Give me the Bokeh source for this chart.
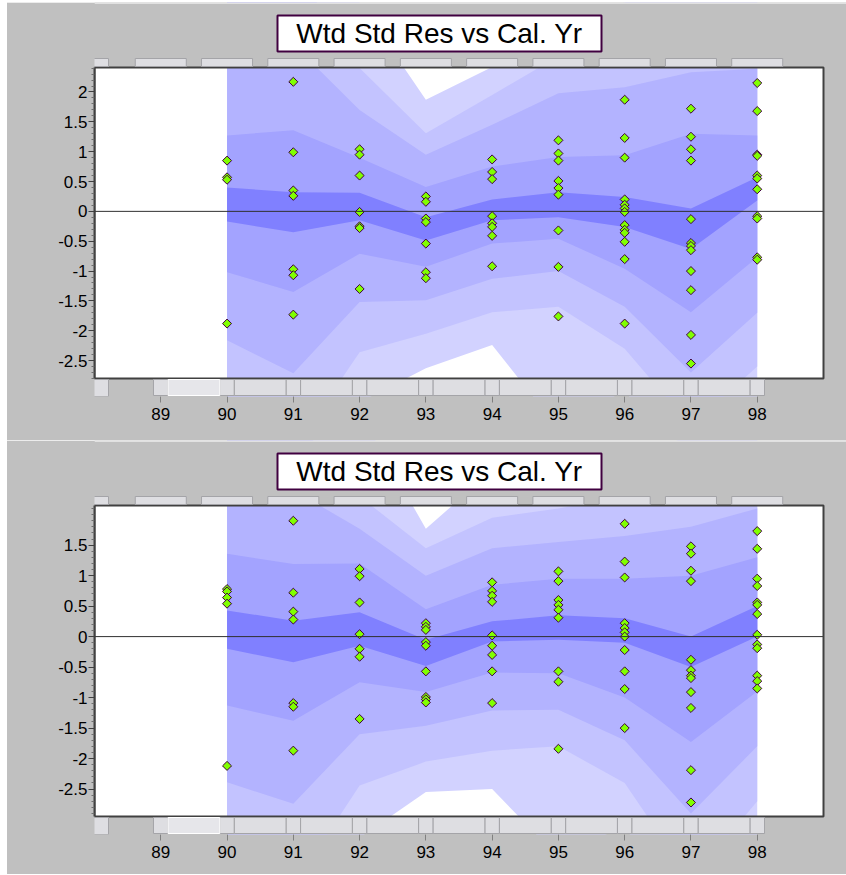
import math
from bokeh.plotting import figure
from bokeh.models import (FixedTicker, NumeralTickFormatter, Span, BoxAnnotation,
                          Label, Range1d)
from bokeh.layouts import column
from bokeh.embed import file_html
from bokeh.resources import INLINE

# ---------------- data ----------------
years = [90, 91, 92, 93, 94, 95, 96, 97, 98]
x_ticks = [89, 90, 91, 92, 93, 94, 95, 96, 97, 98]
title_text = "Wtd Std Res vs Cal. Yr"

top_y_ticks = [-2.5, -2, -1.5, -1, -0.5, 0, 0.5, 1, 1.5, 2]
bot_y_ticks = [-2.5, -2, -1.5, -1, -0.5, 0, 0.5, 1, 1.5]
top_limits = [-2.8, 2.41]
bot_limits = [-2.95, 2.15]

# residuals, top panel
top_90 = [0.85, 0.57, 0.53, -1.88]
top_91 = [2.17, 0.99, 0.35, 0.26, -0.97, -1.07, -1.73]
top_92 = [1.04, 0.95, 0.60, -0.01, -0.25, -0.28, -1.30]
top_93 = [0.25, 0.16, -0.12, -0.18, -0.54, -1.02, -1.12]
top_94 = [0.87, 0.66, 0.54, -0.08, -0.20, -0.26, -0.41, -0.92]
top_95 = [1.19, 0.97, 0.85, 0.51, 0.39, 0.28, -0.32, -0.93, -1.76]
top_96 = [1.87, 1.23, 0.90, 0.20, 0.11, 0.05, -0.01, -0.23, -0.31, -0.36, -0.51, -0.80, -1.88]
top_97 = [1.72, 1.25, 1.04, 0.85, -0.13, -0.53, -0.58, -0.65, -1.00, -1.32, -2.07, -2.55]
top_98 = [2.15, 1.68, 0.95, 0.93, 0.60, 0.55, 0.37, -0.08, -0.12, -0.77, -0.81]

# residuals, bottom panel
bot_90 = [0.78, 0.74, 0.64, 0.54, -2.12]
bot_91 = [1.90, 0.72, 0.41, 0.28, -1.09, -1.15, -1.87]
bot_92 = [1.11, 0.99, 0.56, 0.04, -0.20, -0.33, -1.35]
bot_93 = [0.22, 0.16, 0.11, -0.09, -0.15, -0.57, -0.99, -1.03, -1.08]
bot_94 = [0.89, 0.75, 0.67, 0.57, 0.02, -0.15, -0.30, -0.57, -1.09]
bot_95 = [1.07, 0.91, 0.60, 0.52, 0.44, 0.31, -0.57, -0.74, -1.84]
bot_96 = [1.85, 1.23, 0.97, 0.22, 0.14, 0.07, 0.00, -0.22, -0.57, -0.86, -1.50]
bot_97 = [1.48, 1.36, 1.08, 0.91, -0.38, -0.55, -0.64, -0.68, -0.91, -1.17, -2.19, -2.72]
bot_98 = [1.73, 1.44, 0.95, 0.83, 0.56, 0.52, 0.37, 0.03, -0.13, -0.19, -0.64, -0.73, -0.85]

# shaded bands (inner D .. outer E), top panel
top_d_hi = [0.40, 0.32, 0.31, -0.10, 0.20, 0.32, 0.24, 0.05, 0.57]
top_d_lo = [-0.17, -0.35, -0.15, -0.49, -0.15, -0.10, -0.26, -0.63, 0.18]
top_a_hi = [1.27, 1.36, 0.90, 0.41, 0.75, 0.91, 0.94, 1.30, 1.27]
top_a_lo = [-1.02, -1.35, -0.71, -0.93, -0.54, -0.46, -0.96, -1.69, -0.77]
top_b_hi = [2.60, 2.80, 1.70, 0.95, 1.45, 1.98, 2.08, 2.33, 2.39]
top_b_lo = [-2.16, -2.71, -1.52, -1.49, -1.13, -1.00, -1.60, -2.70, -1.70]
top_c_hi = [3.80, 4.10, 2.40, 1.31, 1.95, 2.60, 2.80, 3.20, 3.40]
top_c_lo = [-3.30, -4.00, -2.36, -2.05, -1.69, -1.60, -2.30, -3.60, -2.60]
top_e_hi = [5.00, 5.40, 3.50, 1.87, 2.42, 3.20, 3.50, 4.00, 4.40]
top_e_lo = [-4.40, -5.30, -3.20, -2.63, -2.24, -3.64, -3.00, -4.50, -3.50]

# shaded bands, bottom panel
bot_d_hi = [0.43, 0.26, 0.40, -0.05, 0.25, 0.35, 0.30, 0.00, 0.50]
bot_d_lo = [-0.20, -0.42, -0.15, -0.48, -0.08, -0.05, -0.10, -0.50, 0.00]
bot_a_hi = [1.36, 1.19, 1.20, 0.45, 0.85, 0.95, 0.95, 1.00, 1.30]
bot_a_lo = [-1.13, -1.38, -0.75, -0.91, -0.59, -0.60, -1.00, -1.73, -0.90]
bot_b_hi = [2.60, 2.40, 1.77, 1.00, 1.45, 1.55, 1.65, 1.80, 2.10]
bot_b_lo = [-2.39, -2.74, -1.60, -1.46, -1.21, -1.20, -1.70, -2.90, -1.80]
bot_c_hi = [3.80, 3.60, 2.30, 1.45, 1.95, 2.10, 2.30, 2.60, 2.80]
bot_c_lo = [-3.60, -4.10, -2.44, -2.05, -1.87, -1.80, -2.40, -4.00, -2.70]
bot_e_hi = [5.00, 4.80, 3.67, 1.77, 2.72, 2.60, 2.90, 3.30, 3.50]
bot_e_lo = [-4.80, -5.40, -3.30, -2.55, -2.50, -3.62, -3.10, -5.00, -3.60]

# ---------------- styling / geometry ----------------
FONT = "Liberation Sans"
GRAY = "#c0c0c0"
BAND_COLORS = ["#d2d2ff", "#c3c3ff", "#b3b3ff", "#a3a3ff", "#8080ff"]  # E, C, B, A, D
STRIP_FILL = "#dedee2"
STRIP_LINE = "#a4a4a8"

X0, X1 = 88, 99            # plot-area x limits
PLOT_W, PLOT_H = 729, 311  # plot-area size in px
FRAME_W, FRAME_H = 752, 394
TOP_PAD, BOT_PAD = 65, 18  # px between frame edges and plot area
PX_YEAR = PLOT_W / (X1 - X0)


def box(p, left=None, right=None, top=None, bottom=None, fill=GRAY, line=None,
        lw=1, level="annotation"):
    kw = dict(fill_color=fill, fill_alpha=1.0 if fill else 0.0,
              line_color=line if line else "black", line_alpha=1.0 if line else 0.0,
              line_width=lw, level=level)
    for name, v in (("left", left), ("right", right), ("top", top), ("bottom", bottom)):
        if v is not None:
            kw[name] = v
    p.add_layout(BoxAnnotation(**kw))


def make_panel(res_lists, bands, limits, y_ticks, margin, border_bottom):
    ymin, ymax = limits
    k = PLOT_H / (ymax - ymin)            # px per unit
    y_lo = ymin - BOT_PAD / k
    y_hi = ymax + TOP_PAD / k
    x_hi = X0 + FRAME_W / PX_YEAR

    def up(px):     # px above the plot-area top
        return ymax + px / k

    def down(px):   # px below the plot-area bottom
        return ymin - px / k

    def xp(px):     # page x pixel -> data x
        return X0 + (px - 94) / PX_YEAR

    p = figure(frame_width=FRAME_W, frame_height=FRAME_H,
               x_range=Range1d(X0, x_hi), y_range=Range1d(y_lo, y_hi),
               output_backend="svg", toolbar_location=None,
               min_border_left=87, min_border_right=0,
               min_border_top=0, min_border_bottom=border_bottom,
               background_fill_color=GRAY, background_fill_alpha=0.0,
               border_fill_color=GRAY, border_fill_alpha=0.0,
               outline_line_color=None, margin=margin)
    p.styles = {"background-color": GRAY, "box-shadow": "inset 0 1px 0 #ececec"}
    p.grid.visible = False

    # white plot area
    box(p, left=X0, right=X1, bottom=ymin, top=ymax, fill="white", level="underlay")

    # bands, outermost first
    for (lo, hi), col in zip(bands, BAND_COLORS):
        p.varea(x=years, y1=lo, y2=hi, fill_color=col, fill_alpha=1.0)

    xs, ys = [], []
    for yr, vals in zip(years, res_lists):
        xs += [yr] * len(vals)
        ys += vals
    p.scatter(xs, ys, marker="square", size=6.4, angle=math.pi / 4,
              fill_color="#80ff00", line_color="#400040", line_width=1)

    p.add_layout(Span(location=0, dimension="width", line_color="#303030", line_width=1))

    # gray surround (covers anything beyond the plot area)
    box(p, bottom=ymax)
    box(p, top=ymin)
    box(p, left=X1, bottom=ymin, top=ymax)
    # plot-area border
    box(p, left=X0, right=X1, bottom=ymin, top=ymax, fill=None, line="#404040", lw=2)
    # light top edge of the panel
    box(p, bottom=y_hi - 1.2 / k, fill="#ececec")

    # decorative button strips above and below the plot area
    for t in x_ticks:
        box(p, left=t - 0.385, right=t + 0.385, top=up(9), bottom=up(1),
            fill=STRIP_FILL, line=STRIP_LINE)
    box(p, left=xp(79), right=xp(108), top=up(9), bottom=up(1), fill=STRIP_FILL, line=STRIP_LINE)
    box(p, left=xp(79), right=xp(108), top=down(1), bottom=down(18), fill=STRIP_FILL, line=STRIP_LINE)
    for t in x_ticks:
        box(p, left=t - 0.11, right=t + 0.11, top=down(1), bottom=down(17),
            fill=STRIP_FILL, line=STRIP_LINE)
    for t in x_ticks[:-1]:
        if t == 89:
            box(p, left=t + 0.11, right=t + 0.89, top=down(1), bottom=down(17),
                fill="#e6e6ea", line="white")
        else:
            box(p, left=t + 0.11, right=t + 0.89, top=down(1), bottom=down(17),
                fill=STRIP_FILL, line=STRIP_LINE)

    # title box
    box(p, left=xp(277), right=xp(601), top=up(52), bottom=up(16),
        fill="white", line="#400040", lw=2)
    p.add_layout(Label(x=xp(439), y=up(34), text=title_text,
                       text_align="center", text_baseline="middle",
                       text_font=FONT, text_font_size="28px", text_color="black"))

    # axes
    minor = [round(v / 10, 1) for v in range(int(math.ceil(ymin * 10)), int(math.floor(ymax * 10)) + 1)]
    minor = [m for m in minor if m not in y_ticks]
    p.yaxis.ticker = FixedTicker(ticks=y_ticks, minor_ticks=minor)
    p.yaxis.formatter = NumeralTickFormatter(format="0.[0]")
    p.yaxis.bounds = (ymin, ymax)
    p.yaxis.axis_line_color = "#404040"
    p.yaxis.axis_line_width = 2
    p.yaxis.major_tick_in = 0
    p.yaxis.major_tick_out = 6
    p.yaxis.minor_tick_in = 0
    p.yaxis.minor_tick_out = 3
    p.yaxis.major_tick_line_color = "#404040"
    p.yaxis.minor_tick_line_color = "#707070"
    p.yaxis.major_label_standoff = 1

    p.xaxis.ticker = FixedTicker(ticks=x_ticks, minor_ticks=[])
    p.xaxis.axis_line_color = None
    p.xaxis.major_tick_in = 0
    p.xaxis.major_tick_out = 6
    p.xaxis.major_tick_line_color = "#808080"
    p.xaxis.major_label_standoff = 5

    for ax in (p.xaxis[0], p.yaxis[0]):
        ax.major_label_text_font = FONT
        ax.major_label_text_font_size = "17px"
        ax.major_label_text_color = "black"
    return p


top_bands = [(top_e_lo, top_e_hi), (top_c_lo, top_c_hi), (top_b_lo, top_b_hi),
             (top_a_lo, top_a_hi), (top_d_lo, top_d_hi)]
bot_bands = [(bot_e_lo, bot_e_hi), (bot_c_lo, bot_c_hi), (bot_b_lo, bot_b_hi),
             (bot_a_lo, bot_a_hi), (bot_d_lo, bot_d_hi)]

top_res = [top_90, top_91, top_92, top_93, top_94, top_95, top_96, top_97, top_98]
bot_res = [bot_90, bot_91, bot_92, bot_93, bot_94, bot_95, bot_96, bot_97, bot_98]

p1 = make_panel(top_res, top_bands, top_limits, top_y_ticks, (2, 0, 0, 7), 44)
p2 = make_panel(bot_res, bot_bands, bot_limits, bot_y_ticks, (0, 0, 0, 7), 40)

layout = column(p1, p2, spacing=0)
open("out.html", "w").write(file_html(layout, INLINE))
